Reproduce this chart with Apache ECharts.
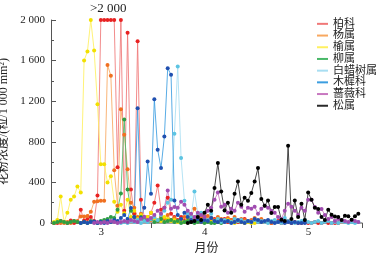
<!DOCTYPE html>
<html>
<head>
<meta charset="utf-8">
<script src="https://cdn.jsdelivr.net/npm/echarts@6/dist/echarts.min.js"></script>
<style>html,body{margin:0;padding:0;background:#fff}</style>
</head>
<body>
<div id="main" style="width:377px;height:259px"></div>
<script>
// daily samples, index 0 = first day on the axis (null = not sampled)
const N = null;
const cupressaceae = [ // 柏科
  0, 0, 20, 10, 0, 25, 0, 10, 130, 25,
  40, 60, 20, 270, 2000, 2000, 2000, 2000, 2000, 550,
  2000, 120, 1875, 330, 90, 1790, 230, 60, 40, 100,
  200, 370, 130, 150, 250, 90, 60, 30, 60, 20,
  40, 20, 30, 50, 10, 60, 30, 20, 40, 10,
  20, 40, 10, 30, 20, 10, 30, 40, 20, 10,
  20, 10, 30, 10, 20, 0, 10, 20, 0, 10,
  20, 0, 10, 0, 0, 10, 0, 0, 10, 0,
  0, 10, 0, 0, 0, 0, N, N, N, N, N, N];
const populus = [ // 杨属
  0, 10, 0, 0, 10, 0, 20, 20, 65, 65,
  70, 110, 210, 215, 220, 220, 1557, 1450, 520, 170,
  1120, 870, 530, 200, 150, 60, 90, 40, 60, 30,
  50, 20, 60, 40, 80, 30, 50, 20, 40, 60,
  90, 60, 140, 80, 60, 40, 70, 50, 30, 60,
  40, 20, 50, 30, 60, 20, 40, 30, 20, 30,
  50, 20, 40, 10, 20, 0];
const ulmus = [ // 榆属
  10, 30, 260, 10, 100, 230, 260, 360, 300, 1600,
  1690, 2000, 1700, 1170, 580, 580, 400, 460, 210, 110,
  180, 95, 230, 60, 120, 40, 80, 30, 60, 100,
  50, 30, 20, 60, 40, 20, 30, 10, 20, 10,
  30, 60, 20, 40, 10, 30, 20, 10, 20, 40,
  10, 20, 30, 10, 0, 20, 10, 0, 10, 0, 0];
const salix = [ // 柳属
  0, 10, 20, 10, 0, 10, 20, 10, 0, 10,
  0, 20, 10, 0, 20, 30, 40, 60, 50, 130,
  290, 1020, 330, 120, 60, 20, 60, 30, 20, 40,
  10, 20, 40, 10, 20, 30, 10, 20, 0, 10,
  20, 10, 0, 10, 20, 0, 10, 0, 0, 10, 0];
const fraxinus = [ // 白蜡树属
  N, N, N, N, N, N, N, N, N, N,
  N, N, N, N, N, N, N, N, N, N,
  0, 10, 0, 20, 10, 30, 0, 20, 10, 40,
  60, 30, 80, 120, 200, 230, 880, 1541, 640, 220,
  90, 60, 311, 90, 100, 40, 30, 92, 20, 40,
  10, 30, 20, 10, 40, 20, 30, 10, 20, 10,
  30, 10, 20, 10, 0, 20, 30, 10, 0, 50,
  20, 10, 0, 10, 20, 30, 10, 0, 10, 20,
  0, 10, 20, 0, 10, 0, 20, 10, 0, 10, 0, 10];
const oleaceae = [ // 木樨科
  N, N, N, N, N, N, N, N, 0, 10,
  0, 10, 15, 0, 10, 0, 20, 10, 30, 20,
  50, 80, 40, 147, 60, 1130, 50, 150, 606, 288,
  1220, 721, 541, 852, 1525, 1460, 222, 80, 40, 100,
  60, 30, 20, 40, 10, 30, 20, 50, 20, 10,
  30, 10, 20, 0, 10, 30, 10, 0, 20, 10,
  40, 30, 10, 20, 30, 10, 0, 10, 20, 0,
  10, 0, 10, 0, 0, 0];
const rosaceae = [ // 蔷薇科
  N, N, N, N, N, N, N, N, N, N,
  N, N, 0, 10, 0, 10, 0, 20, 10, 0,
  10, 20, 10, 30, 20, 10, 40, 60, 30, 50,
  80, 120, 90, 150, 320, 140, 157, 150, 210, 180,
  120, 90, 60, 100, 80, 60, 120, 150, 230, 300,
  160, 180, 100, 140, 120, 200, 160, 110, 150, 140,
  160, 90, 140, 170, 150, 120, 100, 60, 40, 120,
  190, 160, 120, 80, 150, 120, 229, 229, 157, 100,
  138, 80, 40, 60, 20, 40, 30, 20, 10, 30, 20, 10];
const pinus = [ // 松属
  N, N, N, N, N, N, N, N, N, N,
  N, N, N, N, N, N, N, N, N, N,
  N, N, N, N, N, N, N, N, N, N,
  N, N, N, N, N, N, N, N, N, N,
  0, 10, 20, 60, 30, 100, 180, 120, 345, 590,
  311, 124, 200, 100, 288, 410, 180, 250, 220, 295,
  410, 541, 236, 170, 222, 98, 157, 157, 32, 20,
  760, 39, 222, 60, 190, 30, 301, 229, 150, 138,
  60, 30, 131, 82, 65, 59, 30, 72, 66, 32, 66, 92];

const seriesNames = ['柏科', '杨属', '榆属', '柳属', '白蜡树属', '木樨科', '蔷薇科', '松属'];
const seriesValues = [cupressaceae, populus, ulmus, salix, fraxinus, oleaceae, rosaceae, pinus];
const lineColors = ['#f07878', '#f8a860', '#fff060', '#48b868', '#a8def2', '#3c9ee0', '#c878c0', '#2a2a2a'];
const dotColors = ['#e82222', '#f07020', '#f2e000', '#2e9e44', '#5cc4e2', '#2050b0', '#a04cb0', '#000000'];

const firstDay = 0.9;          // x position of sample 0
const monthEdges = [30, 60, 93];
const monthMids = [15, 46, 77];
const monthLabels = ['3', '4', '5'];

const serif = 'Liberation Serif, Noto Sans CJK SC';

const chart = echarts.init(document.getElementById('main'));

const series = seriesValues.map((vals, k) => ({
  name: seriesNames[k],
  type: 'line',
  data: vals.map((v, i) => [i + firstDay, v]).filter(p => p[1] !== null),
  symbol: 'circle',
  symbolSize: 4,
  showSymbol: true,
  itemStyle: { color: dotColors[k] },
  lineStyle: { color: lineColors[k], width: 1, opacity: 0.85 },
  emphasis: { disabled: true }
}));

chart.setOption({
  animation: false,
  grid: { left: 51, right: 15, top: 20, bottom: 36, outerBoundsMode: 'none' },
  legend: {
    orient: 'vertical',
    left: 312,
    top: 13,
    icon: 'rect',
    itemWidth: 11,
    itemHeight: 2,
    itemGap: 0,
    data: seriesNames.map((n, k) => ({ name: n, itemStyle: { color: lineColors[k] } })),
    textStyle: { fontSize: 11, lineHeight: 11.7, color: '#222', fontFamily: serif }
  },
  xAxis: {
    type: 'value',
    min: 0,
    max: 93,
    name: '月份',
    nameLocation: 'middle',
    nameGap: 18,
    nameTextStyle: { fontSize: 12, color: '#222', fontFamily: serif },
    axisLine: { lineStyle: { color: '#888', width: 1.5 } },
    axisTick: { show: true, customValues: monthEdges, length: 5, lineStyle: { color: '#555' } },
    axisLabel: {
      customValues: monthMids,
      margin: 4,
      fontSize: 11,
      color: '#222',
      fontFamily: serif,
      formatter: v => monthLabels[monthMids.indexOf(v)]
    },
    splitLine: { show: false }
  },
  yAxis: {
    type: 'value',
    min: 0,
    max: 2000,
    interval: 400,
    name: '花粉浓度/(粒/1 000 mm²)',
    nameLocation: 'middle',
    nameGap: 39,
    nameRotate: 90,
    nameTextStyle: { fontSize: 12, color: '#222', fontFamily: serif },
    axisLine: { show: true, lineStyle: { color: '#555', width: 1 } },
    axisTick: { inside: true, length: 5, lineStyle: { color: '#555' } },
    minorTick: { show: true, splitNumber: 2, length: 3, lineStyle: { color: '#555' } },
    axisLabel: {
      margin: 6,
      fontSize: 11,
      color: '#222',
      fontFamily: serif,
      formatter: v => String(v).replace(/(\d)(\d{3})$/, '$1 $2')
    },
    splitLine: { show: false }
  },
  graphic: [{
    type: 'text',
    left: 90,
    top: 2,
    style: { text: '>2 000', fontSize: 13, fill: '#222', fontFamily: serif }
  }],
  series: series
});
</script>
</body>
</html>
